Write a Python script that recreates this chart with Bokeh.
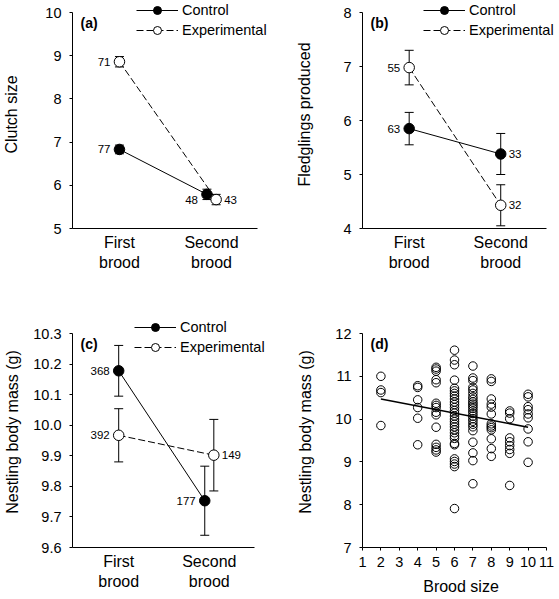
from bokeh.plotting import figure
from bokeh.models import (ColumnDataSource, Whisker, TeeHead, Legend, LegendItem,
                          FixedTicker, Label, Range1d, PrintfTickFormatter)
from bokeh.core.properties import value
from bokeh.layouts import gridplot
from bokeh.embed import file_html
from bokeh.resources import INLINE

# ---------------- data ----------------
broods = [1, 2]
brood_labels = ["First\nbrood", "Second\nbrood"]

clutch_ctrl = [6.83, 5.79]
clutch_ctrl_se = [0.10, 0.12]
clutch_exp = [8.86, 5.67]
clutch_exp_se = [0.12, 0.12]
clutch_ctrl_n = ["77", "48"]
clutch_exp_n = ["71", "43"]
clutch_yticks = [5, 6, 7, 8, 9, 10]

fledg_ctrl = [5.85, 5.38]
fledg_ctrl_se = [0.30, 0.38]
fledg_exp = [6.98, 4.43]
fledg_exp_se = [0.32, 0.38]
fledg_ctrl_n = ["63", "33"]
fledg_exp_n = ["55", "32"]
fledg_yticks = [4, 5, 6, 7, 8]

mass_ctrl = [10.178, 9.753]
mass_ctrl_se = [0.083, 0.113]
mass_exp = [9.967, 9.902]
mass_exp_se = [0.087, 0.117]
mass_ctrl_n = ["368", "177"]
mass_exp_n = ["392", "149"]
mass_yticks = [9.6, 9.7, 9.8, 9.9, 10.0, 10.1, 10.2, 10.3]

# panel (d): nestling body mass by brood size
mass_b2 = [11.00, 10.68, 10.62, 9.85]
mass_b4 = [10.78, 10.74, 10.45, 10.27, 10.02, 9.40]
mass_b5 = [11.21, 11.17, 11.12, 10.92, 10.85, 10.37, 10.32, 10.27, 10.16, 10.10,
           9.81, 9.41, 9.34, 9.28, 9.23]
mass_b6 = [11.61, 11.38, 11.27, 10.91, 10.72, 10.66, 10.60, 10.54, 10.47, 10.40,
           10.34, 10.27, 10.20, 10.14, 10.07, 10.00, 9.94, 9.88, 9.82, 9.75,
           9.68, 9.61, 9.55, 9.43, 9.40, 9.07, 9.01, 8.95, 8.89, 7.91]
mass_b7 = [11.24, 10.96, 10.90, 10.74, 10.68, 10.60, 10.52, 10.46, 10.40, 10.35,
           10.30, 10.25, 10.19, 10.13, 10.07, 10.01, 9.95, 9.88, 9.82, 9.73,
           9.46, 9.21, 9.03, 8.49]
mass_b8 = [10.94, 10.88, 10.47, 10.35, 10.28, 10.12, 9.89, 9.84, 9.80, 9.75,
           9.54, 9.31, 9.13]
mass_b9 = [10.19, 10.14, 10.01, 9.56, 9.47, 9.38, 9.29, 9.20, 8.45]
mass_b10 = [10.58, 10.52, 10.29, 10.22, 10.12, 10.03, 9.77, 9.47, 8.99]
brood_sizes = [2, 4, 5, 6, 7, 8, 9, 10]
trend_x = [2, 10]
trend_y = [10.47, 9.81]
size_yticks = [7, 8, 9, 10, 11, 12]
size_xticks = [1, 2, 3, 4, 5, 6, 7, 8, 9, 10, 11]

# ---------------- style ----------------
FONT = "Liberation Sans"
FONT_V = value(FONT)
TICK_FS = "14.5px"
LABEL_FS = "16px"
N_FS = "11.5px"
XR = (0.49, 2.5)

LEFT_W, RIGHT_W = 292, 267
TOP_H, BOT_H = 300, 299
# borders shared along rows / columns (the grid aligns them)
LEFT_COL = (71, 21)     # left, right border of left column
RIGHT_COL = (70, 0)     # left, right border of right column
TOP_ROW = (0, 72)       # top, bottom border of top row
BOT_ROW = (16, 52)      # top, bottom border of bottom row


def padded(lo, hi, span_px, pad_lo_px, pad_hi_px):
    """Extend a data range so that [lo, hi] occupies span_px pixels of the frame."""
    k = (hi - lo) / span_px
    return lo - pad_lo_px * k, hi + pad_hi_px * k


def style_axes(p, ytick_list, ylabel, label_standoff):
    p.outline_line_color = None
    p.xgrid.visible = False
    p.ygrid.visible = False
    p.background_fill_color = "white"
    p.border_fill_color = "white"
    for ax in (p.xaxis[0], p.yaxis[0]):
        ax.axis_line_color = "black"
        ax.axis_line_width = 1
        ax.major_tick_line_color = "black"
        ax.major_tick_in = 0
        ax.major_tick_out = 3
        ax.minor_tick_line_color = None
        ax.major_label_text_font = FONT
        ax.major_label_text_font_size = TICK_FS
        ax.major_label_text_color = "black"
        ax.axis_label_text_font = FONT
        ax.axis_label_text_font_size = LABEL_FS
        ax.axis_label_text_font_style = "normal"
        ax.axis_label_text_color = "black"
    ya = p.yaxis[0]
    ya.ticker = FixedTicker(ticks=ytick_list)
    ya.bounds = (ytick_list[0], ytick_list[-1])
    ya.major_label_standoff = 8
    ya.axis_label = ylabel
    ya.axis_label_standoff = label_standoff


def add_letter(p, letter, x0, y1):
    p.add_layout(Label(x=x0, y=y1, x_offset=8, y_offset=-10,
                       text=letter, text_font=FONT, text_font_style="bold",
                       text_font_size="14px", text_baseline="middle", text_color="black"))


def make_fig(width, height, col, row, xr, yr):
    return figure(width=width, height=height, x_range=Range1d(*xr), y_range=Range1d(*yr),
                  output_backend="svg", toolbar_location=None,
                  min_border_left=col[0], min_border_right=col[1],
                  min_border_top=row[0], min_border_bottom=row[1])


def group_panel(width, height, col, row, data_px, pads, ctrl, ctrl_se, exp, exp_se,
                ctrl_n, exp_n, ctrl_dx, exp_dx, ctrl_side, exp_side, ctrl_dy, exp_dy,
                yticks, ylabel, ylabel_standoff, letter, legend_xy, fmt=None):
    xspan, yspan = data_px
    pad_right, pad_top = pads
    xr = padded(XR[0], XR[1], xspan, 0, pad_right)
    yr = padded(yticks[0], yticks[-1], yspan, 0, pad_top)
    p = make_fig(width, height, col, row, xr, yr)
    style_axes(p, yticks, ylabel, ylabel_standoff)
    if fmt:
        p.yaxis[0].formatter = PrintfTickFormatter(format=fmt)
    xa = p.xaxis[0]
    xa.ticker = FixedTicker(ticks=broods)
    xa.bounds = XR
    xa.major_label_overrides = {b: lab for b, lab in zip(broods, brood_labels)}
    xa.major_tick_out = 0
    xa.major_label_standoff = 5
    xa.major_label_text_font_size = LABEL_FS

    cx = [b + d for b, d in zip(broods, ctrl_dx)]
    ex = [b + d for b, d in zip(broods, exp_dx)]

    for xs, m, s in ((cx, ctrl, ctrl_se), (ex, exp, exp_se)):
        src = ColumnDataSource(dict(x=xs, upper=[a + b for a, b in zip(m, s)],
                                    lower=[a - b for a, b in zip(m, s)]))
        w = Whisker(source=src, base="x", upper="upper", lower="lower",
                    line_color="black", line_width=1,
                    upper_head=TeeHead(size=9, line_color="black", line_width=1),
                    lower_head=TeeHead(size=9, line_color="black", line_width=1))
        p.add_layout(w)

    c_line = p.line(cx, ctrl, line_color="black", line_width=1)
    e_line = p.line(ex, exp, line_color="black", line_width=1, line_dash="7 3")
    c_pts = p.scatter(cx, ctrl, size=10.5, fill_color="black", line_color="black", line_width=1)
    e_pts = p.scatter(ex, exp, size=10.5, fill_color="white", line_color="black", line_width=1)

    def offs(side):
        return [-9 if s == "L" else 8 for s in side]

    def aligns(side):
        return ["right" if s == "L" else "left" for s in side]

    tsrc = ColumnDataSource(dict(
        x=cx + ex, y=ctrl + exp, t=ctrl_n + exp_n,
        al=aligns(ctrl_side) + aligns(exp_side),
        xo=offs(ctrl_side) + offs(exp_side),
        yo=list(ctrl_dy) + list(exp_dy)))
    p.text(x="x", y="y", text="t", source=tsrc, text_align="al", x_offset="xo",
           y_offset="yo", text_baseline="middle", text_font=FONT_V,
           text_font_size=N_FS, text_color="black")

    legend = Legend(items=[LegendItem(label="Control", renderers=[c_line, c_pts]),
                           LegendItem(label="Experimental", renderers=[e_line, e_pts])],
                    location=legend_xy, glyph_width=42, glyph_height=20,
                    label_height=20, label_standoff=4, spacing=0, padding=0, margin=0,
                    border_line_color=None, background_fill_alpha=0,
                    label_text_font=FONT, label_text_font_size=TICK_FS,
                    label_text_color="black")
    p.add_layout(legend)
    add_letter(p, letter, XR[0], yticks[-1])
    return p


# (a): frame 71..271 x 0..228; data occupies 186 x 216 px
pa = group_panel(LEFT_W, TOP_H, LEFT_COL, TOP_ROW, (186, 216), (14, 12),
                 clutch_ctrl, clutch_ctrl_se, clutch_exp, clutch_exp_se,
                 clutch_ctrl_n, clutch_exp_n, [0, -0.05], [0, 0.05],
                 "LL", "LR", [0, 6], [0, 0], clutch_yticks, "Clutch size", 22, "(a)",
                 (64, 188))
# (b): frame 362..559 x 0..228; data occupies 184 x 216 px
pb = group_panel(RIGHT_W, TOP_H, RIGHT_COL, TOP_ROW, (184, 216), (13, 12),
                 fledg_ctrl, fledg_ctrl_se, fledg_exp, fledg_exp_se,
                 fledg_ctrl_n, fledg_exp_n, [0, 0], [0, 0],
                 "LR", "LR", [0, 0], [0, 0], fledg_yticks, "Fledglings produced", 27, "(b)",
                 (61, 188))
# (c): frame 71..271 x 316..547; data occupies 183 x 214 px
pc = group_panel(LEFT_W, BOT_H, LEFT_COL, BOT_ROW, (183, 214), (17, 17),
                 mass_ctrl, mass_ctrl_se, mass_exp, mass_exp_se,
                 mass_ctrl_n, mass_exp_n, [0, -0.05], [0, 0.05],
                 "LL", "LR", [0, 0], [0, 0], mass_yticks, "Nestling body mass (g)", 9, "(c)",
                 (62, 190), fmt="%.1f")

# (d): frame 362..559 x 316..547; data occupies 184 x 214 px
xr_d = padded(size_xticks[0], size_xticks[-1], 184, 0, 13)
yr_d = padded(size_yticks[0], size_yticks[-1], 214, 0, 17)
pd_ = make_fig(RIGHT_W, BOT_H, RIGHT_COL, BOT_ROW, xr_d, yr_d)
style_axes(pd_, size_yticks, "Nestling body mass (g)", 18)
pd_.xaxis[0].ticker = FixedTicker(ticks=size_xticks)
pd_.xaxis[0].bounds = (size_xticks[0], size_xticks[-1])
pd_.xaxis[0].major_label_standoff = 6
pd_.xaxis[0].axis_label = "Brood size"
pd_.xaxis[0].axis_label_standoff = 8
cols = [mass_b2, mass_b4, mass_b5, mass_b6, mass_b7, mass_b8, mass_b9, mass_b10]
sx, sy = [], []
for b, col in zip(brood_sizes, cols):
    sx += [b] * len(col)
    sy += col
pd_.scatter(sx, sy, size=8.5, fill_color=None, line_color="black", line_width=1)
pd_.line(trend_x, trend_y, line_color="black", line_width=1.5)
add_letter(pd_, "(d)", size_xticks[0], size_yticks[-1])

grid = gridplot([[pa, pb], [pc, pd_]], toolbar_location=None)
open("out.html", "w").write(file_html(grid, INLINE))
